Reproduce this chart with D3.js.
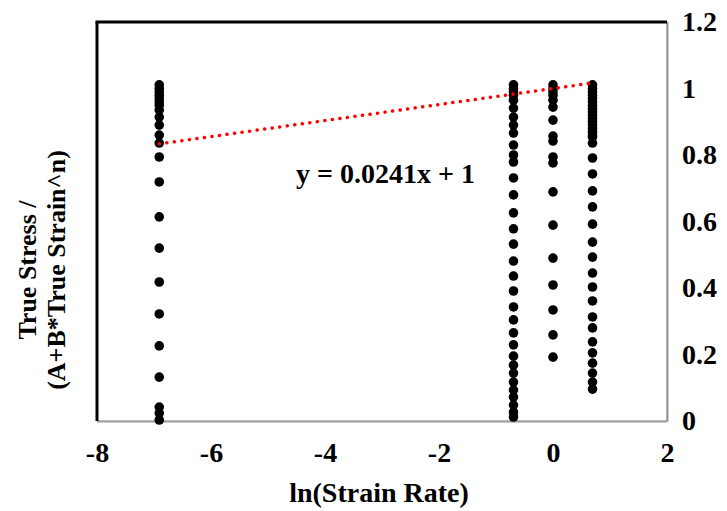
<!DOCTYPE html>
<html>
<head>
<meta charset="utf-8">
<script src="https://cdn.jsdelivr.net/npm/d3@7/dist/d3.min.js"></script>
<style>
  html, body { margin: 0; padding: 0; background: #fff; }
  svg text { font-family: "Liberation Serif", "Times New Roman", serif; font-weight: bold; fill: #000; }
</style>
</head>
<body>
<svg id="chart" width="727" height="511"></svg>
<script>
// ln(strain rate) for each test series
const rates = [Math.log(0.001), Math.log(0.5), Math.log(1), Math.log(2)];

// normalised stress ratios, one array per strain rate
const series0 = [1.011, 1.0, 0.99, 0.98, 0.97, 0.96, 0.95, 0.935, 0.914, 0.89, 0.86, 0.836, 0.794,
  0.719, 0.614, 0.52, 0.418, 0.322, 0.226, 0.132, 0.042, 0.024, 0.003];
const series1 = [1.011, 1.0, 0.99, 0.98, 0.965, 0.941, 0.914, 0.89, 0.866, 0.83, 0.8, 0.779, 0.731,
  0.68, 0.626, 0.578, 0.532, 0.481, 0.436, 0.391, 0.343, 0.304, 0.265, 0.229, 0.195, 0.168, 0.144,
  0.117, 0.093, 0.072, 0.048, 0.027, 0.012];
const series2 = [1.011, 1.0, 0.99, 0.98, 0.965, 0.944, 0.905, 0.857, 0.842, 0.794, 0.776, 0.689,
  0.589, 0.49, 0.409, 0.334, 0.259, 0.192];
const series3 = [1.011, 1.0, 0.99, 0.98, 0.97, 0.96, 0.95, 0.94, 0.93, 0.92, 0.91, 0.9, 0.89, 0.88,
  0.87, 0.86, 0.854, 0.836, 0.791, 0.743, 0.692, 0.644, 0.592, 0.538, 0.493, 0.445, 0.403, 0.361,
  0.313, 0.28, 0.238, 0.205, 0.174, 0.144, 0.117, 0.096];
const seriesValues = [series0, series1, series2, series3];

// linear trend fit
const slope = 0.0241, intercept = 1;
const equationLabel = "y = 0.0241x + 1";

const xTicks = [-8, -6, -4, -2, 0, 2];
const yTicks = [0, 0.2, 0.4, 0.6, 0.8, 1, 1.2];
const xTitle = "ln(Strain Rate)";
const yTitleLines = ["True Stress /", "(A+B*True Strain^n)"];

const FONT = 28;
const svg = d3.select("#chart");
const plot = { left: 97, right: 667, top: 22, bottom: 421 };

const x = d3.scaleLinear().domain([-8, 2]).range([plot.left, plot.right]);
const y = d3.scaleLinear().domain([0, 1.2]).range([plot.bottom, plot.top]);

function styleText(sel, size) {
  sel.attr("font-size", size || FONT).attr("font-family", "Liberation Serif").attr("font-weight", "bold");
}

// plot frame: dark top/left edges, grey bottom/right edges
svg.append("line").attr("x1", plot.left).attr("x2", plot.right).attr("y1", plot.bottom + 1).attr("y2", plot.bottom + 1)
  .attr("stroke", "#c8c8c8").attr("stroke-width", 2);
svg.append("line").attr("x1", plot.right + 1).attr("x2", plot.right + 1).attr("y1", plot.top).attr("y2", plot.bottom + 1)
  .attr("stroke", "#c8c8c8").attr("stroke-width", 2);
svg.append("line").attr("x1", plot.left).attr("x2", plot.right).attr("y1", plot.bottom).attr("y2", plot.bottom)
  .attr("stroke", "#777").attr("stroke-width", 1.2);
svg.append("line").attr("x1", plot.right).attr("x2", plot.right).attr("y1", plot.top).attr("y2", plot.bottom)
  .attr("stroke", "#777").attr("stroke-width", 1.2);
svg.append("line").attr("x1", plot.left - 1.5).attr("x2", plot.right).attr("y1", plot.top).attr("y2", plot.top)
  .attr("stroke", "#000").attr("stroke-width", 3);
svg.append("line").attr("x1", plot.left).attr("x2", plot.left).attr("y1", plot.top).attr("y2", plot.bottom)
  .attr("stroke", "#000").attr("stroke-width", 3);

// x axis labels (plain hyphen for negatives)
const xAxis = d3.axisBottom(x).tickValues(xTicks).tickSize(0).tickPadding(21).tickFormat(d => String(d));
const gx = svg.append("g").attr("transform", `translate(0,${plot.bottom})`).call(xAxis);
gx.select(".domain").remove();
gx.selectAll("text").call(styleText);

// y axis labels on the right side
const yAxis = d3.axisRight(y).tickValues(yTicks).tickSize(0).tickPadding(15).tickFormat(d => String(+d.toFixed(1)));
const gy = svg.append("g").attr("transform", `translate(${plot.right},0)`).call(yAxis);
gy.select(".domain").remove();
gy.selectAll("text").call(styleText);

// data points
const points = [];
seriesValues.forEach((vals, i) => vals.forEach(v => points.push({ x: rates[i], y: v })));
svg.append("g").selectAll("circle").data(points).join("circle")
  .attr("cx", d => x(d.x)).attr("cy", d => y(d.y)).attr("r", 4.8).attr("fill", "#000");

// trend line across the data range
const xMin = d3.min(rates), xMax = d3.max(rates);
svg.append("line")
  .attr("x1", x(xMin)).attr("y1", y(slope * xMin + intercept))
  .attr("x2", x(xMax)).attr("y2", y(slope * xMax + intercept))
  .attr("stroke", "#ff0000").attr("stroke-width", 3.5)
  .attr("stroke-dasharray", "0.1 7.5").attr("stroke-linecap", "round");

// trend equation
svg.append("text").attr("x", 296).attr("y", 183).call(styleText).text(equationLabel);

// axis titles
svg.append("text").attr("x", 379).attr("y", 502).attr("text-anchor", "middle").call(styleText).text(xTitle);
const yt = svg.append("text").attr("transform", "translate(36,270) rotate(-90)")
  .attr("text-anchor", "middle").call(styleText, 26);
yTitleLines.forEach((t, i) => yt.append("tspan").attr("x", 0).attr("dy", i === 0 ? 0 : 29).text(t));
</script>
</body>
</html>
